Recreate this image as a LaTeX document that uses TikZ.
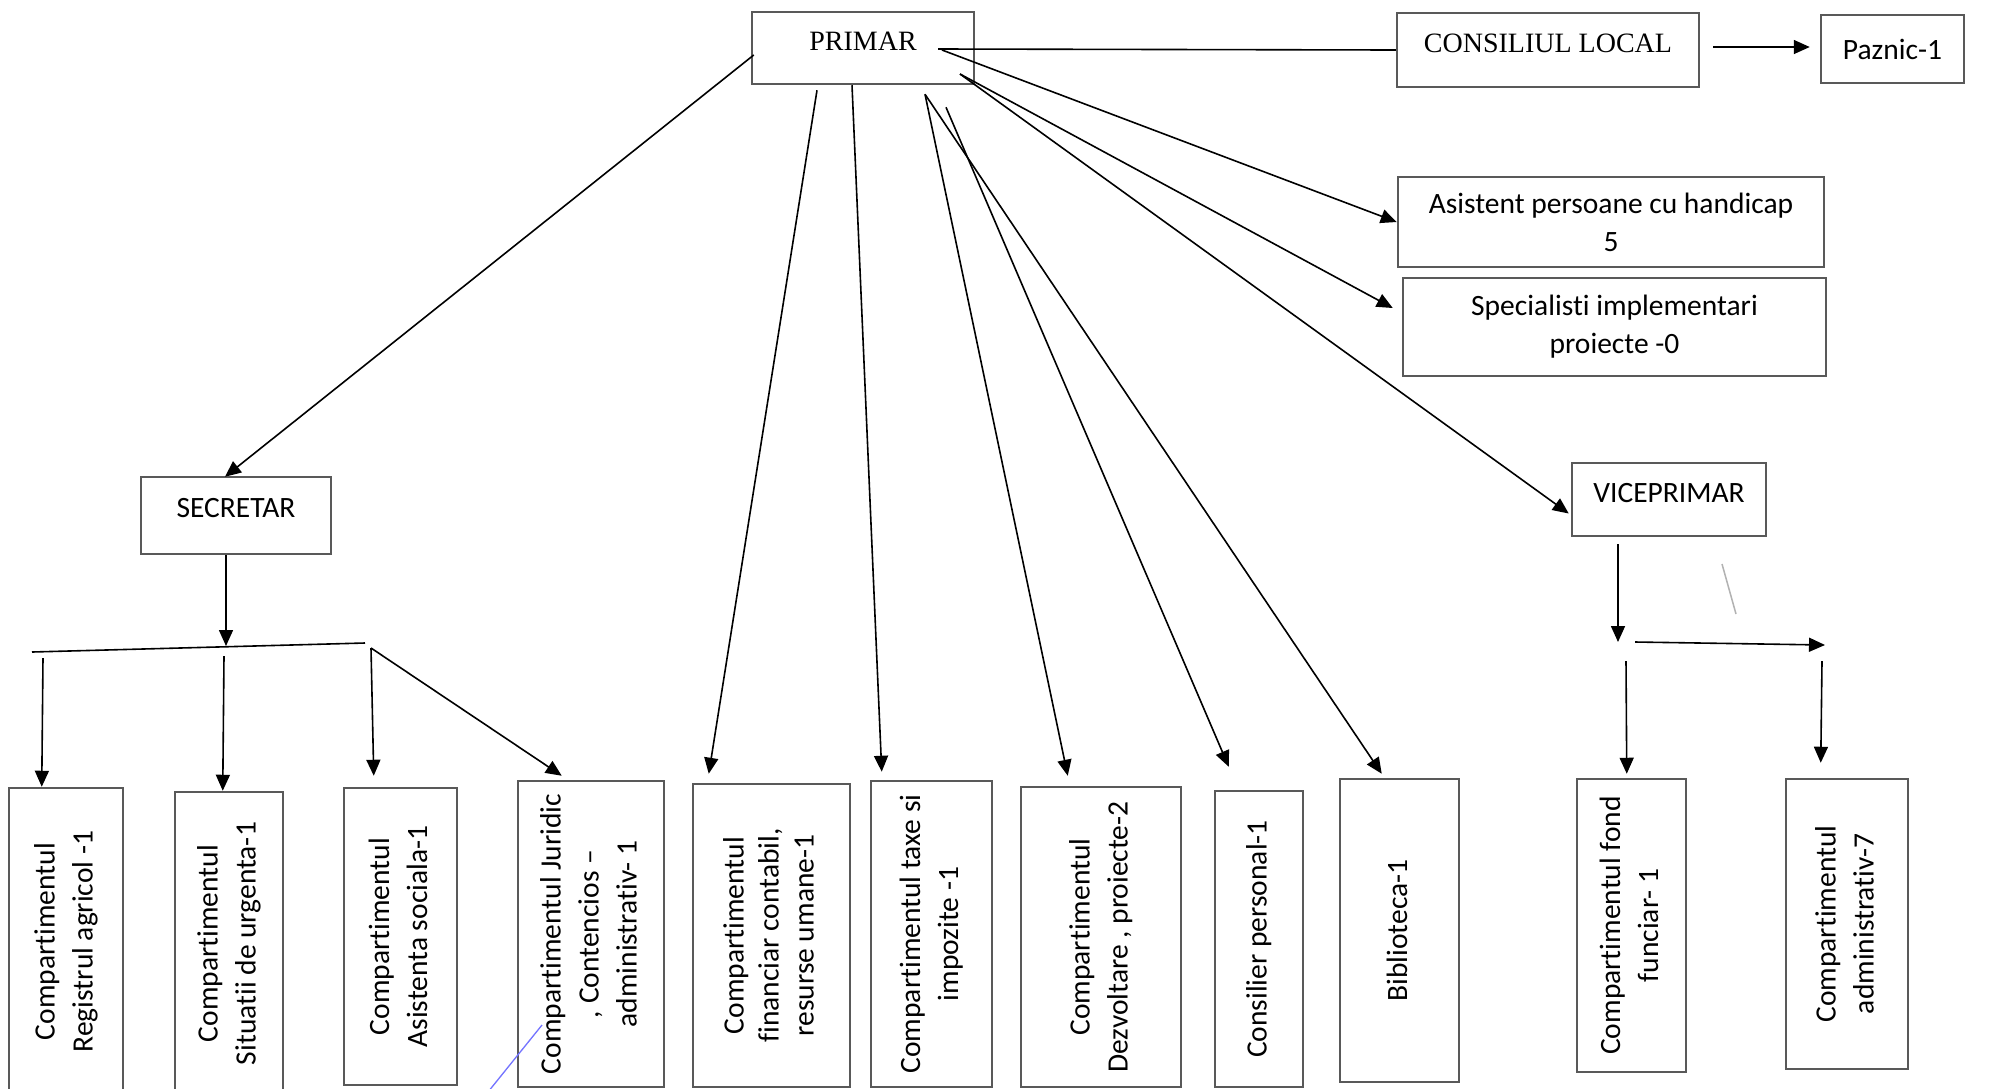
\documentclass[tikz,border=0pt]{standalone}
\usepackage{fontspec}
\setmainfont{Carlito}[Ligatures=NoCommon]
\newfontfamily\serifft{Liberation Serif}
\usetikzlibrary{arrows.meta,calc}
\newcommand{\txtup}[2]{\raisebox{#1}[0pt][0pt]{#2}}
\newcommand{\rottext}[1]{\rotatebox{90}{\begin{tabular}{@{}c@{}}#1\end{tabular}}}
\begin{document}
\begin{tikzpicture}[x=1pt,y=-1pt,
  box/.style={draw=black!65, line width=2.5pt, inner sep=0pt, text=black,
    font=\fontsize{29.5}{38}\selectfont},
  mbox/.style={box, align=center},
  sbox/.style={box, font=\serifft\fontsize{28}{34}\selectfont},
  conn/.style={line width=1.6pt, black},
  arr/.style={conn, -{Triangle[length=16pt,width=14pt]}},
]
\clip (0,0) rectangle (2000,1088);
\fill[white] (0,0) rectangle (2000,1088);

% top row
\node[sbox, minimum width=222pt, minimum height=72pt] (P) at (863,48) {\txtup{-2.25pt}{PRIMAR}};
\node[sbox, minimum width=302pt, minimum height=74pt] (C) at (1548,50) {\txtup{-2.25pt}{CONSILIUL LOCAL}};
\node[box, minimum width=143pt, minimum height=68pt] (Pz) at (1892.5,49) {Paznic-1};
\node[mbox, minimum width=426pt, minimum height=90pt] (A) at (1611,222) {Asistent persoane cu handicap\\5};
\node[mbox, minimum width=423pt, minimum height=98pt] (Sp) at (1614.5,327) {Specialisti implementari\\proiecte -0};
\node[box, minimum width=194pt, minimum height=73pt] (V) at (1669,499.5) {\txtup{-3pt}{VICEPRIMAR}};
\node[box, minimum width=190pt, minimum height=77pt] (S) at (236,515.5) {\txtup{-1.5pt}{SECRETAR}};

% bottom row
\node[box, minimum width=114pt, minimum height=307pt] (b1) at (66,941.5) {\rottext{Compartimentul\\Registrul agricol -1}};
\node[box, minimum width=108pt, minimum height=303pt] (b2) at (229,943.5) {\rottext{Compartimentul\\Situatii de urgenta-1}};
\node[box, minimum width=113pt, minimum height=297pt] (b3) at (400.5,936.5) {\rottext{Compartimentul\\Asistenta sociala-1}};
\node[box, minimum width=146pt, minimum height=306pt] (b4) at (591,934) {\rottext{Compartimentul Juridic\\, Contencios –\\administrativ- 1}};
\node[box, minimum width=157pt, minimum height=303pt, font=\fontsize{29.5}{35}\selectfont] (b5) at (771.5,935.5) {\rottext{Compartimentul\\financiar contabil,\\resurse umane-1}};
\node[box, minimum width=121pt, minimum height=306pt] (b6) at (931.5,934) {\rottext{Compartimentul taxe si\\impozite -1}};
\node[box, minimum width=160pt, minimum height=300pt] (b7) at (1101,937) {\rottext{Compartimentul\\Dezvoltare , proiecte-2}};
\node[box, minimum width=88pt, minimum height=296pt] (b8) at (1259,939) {\rottext{Consilier personal-1}};
\node[box, minimum width=119pt, minimum height=303pt] (b9) at (1399.5,930.5) {\rottext{Biblioteca-1}};
\node[box, minimum width=109pt, minimum height=293pt] (b10) at (1631.5,925.5) {\rottext{Compartimentul fond\\funciar- 1}};
\node[box, minimum width=122pt, minimum height=290pt] (b11) at (1847,924) {\rottext{Compartimentul\\administrativ-7}};

% connectors from PRIMAR
\draw[conn] ($(P.center)+(75,1)$) -- (C.west);
\draw[arr] ($(C.east)+(13,-3)$) -- ($(Pz.west)+(-10,-2)$);
\draw[arr] ($(P.center)+(79,2)$) -- (A.west);
\draw[arr] ($(P.center)+(97,26)$) -- ($(Sp.west)+(-9,-19)$);
\draw[arr] ($(P.center)+(97,26)$) -- ($(V.west)+(-2,14)$);
\draw[arr] ($(P.west)+(3,7)$) -- ($(S.north)+(-11,1)$);
\draw[arr] ($(P.south)+(-46,5)$) -- ($(b5.north west)+(17,-9)$);
\draw[arr] ($(P.south)+(-11,0)$) -- ($(b6.north west)+(12,-8)$);
\draw[arr] ($(P.south)+(62,9)$) -- ($(b7.north west)+(48,-10)$);
\draw[arr] ($(P.south)+(83,22)$) -- ($(b8.north west)+(15,-23)$);
\draw[arr] ($(P.south)+(62,9)$) -- ($(b9.north west)+(43,-4)$);

% SECRETAR branch
\coordinate (brL) at (32,652);
\coordinate (brR) at (365,643);
\coordinate (brM) at (226,646);
\coordinate (s1) at (43,658);
\coordinate (s2) at (224,656);
\coordinate (s3) at (371,648);
\draw[conn] (brL) -- (brR);
\draw[arr] ($(S.south)+(-10,0)$) -- (brM);
\draw[arr] (s1) -- ($(b1.north west)+(34,0)$);
\draw[arr] (s2) -- ($(b2.north west)+(49,0)$);
\draw[arr] (s3) -- ($(b3.north west)+(31,-11)$);
\draw[arr] (s3) -- ($(b4.north west)+(45,-4)$);

% VICEPRIMAR branch
\coordinate (vt) at (1618,642);
\coordinate (hs) at (1635,642);
\coordinate (he) at (1825,645);
\coordinate (d1) at (1626,661);
\coordinate (d2) at (1822,661);
\draw[arr] ($(V.south)+(-51,7)$) -- (vt);
\draw[arr] (hs) -- (he);
\draw[arr] (d1) -- ($(b10.north west)+(51,-4)$);
\draw[arr] (d2) -- ($(b11.north west)+(36,-15)$);

% stray marks present in the scan
\draw[blue!55!white, line width=1.3pt] (488,1092) -- (542,1025);
\draw[black!30, line width=1.5pt] (1722,564) -- (1736,614);
\end{tikzpicture}
\end{document}
